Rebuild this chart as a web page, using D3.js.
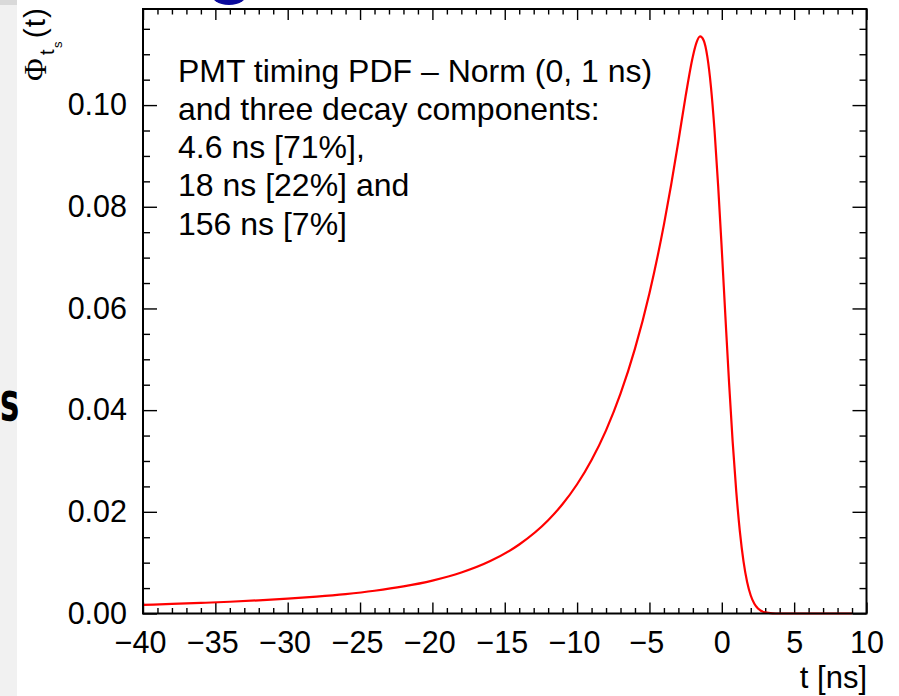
<!DOCTYPE html>
<html>
<head>
<meta charset="utf-8">
<script src="https://cdn.jsdelivr.net/npm/d3@7"></script>
<style>
  html, body { margin: 0; padding: 0; background: #fff; }
  svg { display: block; }
  text { font-family: "Liberation Sans", Arial, Helvetica, sans-serif; fill: #000; }
</style>
</head>
<body>
<svg id="chart" width="899" height="696"></svg>
<script>
// ---- data ----
const timeNs = [-40, -38, -36, -34, -32, -30, -28, -26, -24, -22, -20, -18, -16, -14, -12, -11, -10,
  -9, -8, -7, -6, -5, -4, -3.5, -3, -2.5, -2, -1.75, -1.5, -1.25, -1, -0.75, -0.5, -0.25,
  0, 0.25, 0.5, 0.75, 1, 1.25, 1.5, 1.75, 2, 2.25, 2.5, 3, 3.5, 4, 5, 6, 7, 8, 9];
const pdfValues = [0.00170, 0.00188, 0.00208, 0.00231, 0.00259, 0.00292, 0.00332, 0.00382, 0.00447,
  0.00532, 0.00647, 0.00806, 0.01031, 0.01357, 0.01834, 0.02153, 0.02542,
  0.03019, 0.03603, 0.04323, 0.05209, 0.06300, 0.07648, 0.08432, 0.09289, 0.10176, 0.10958,
  0.11228, 0.11350, 0.11271, 0.10953, 0.10360, 0.09496, 0.08402,
  0.07152, 0.05834, 0.04549, 0.03380, 0.02396, 0.01612, 0.01025, 0.00619, 0.00354, 0.00192,
  0.00098, 0.00021, 0.00004, 0.000005, 0, 0, 0, 0, 0];
const xTickValues = [-40, -35, -30, -25, -20, -15, -10, -5, 0, 5, 10];
const yTickValues = [0.00, 0.02, 0.04, 0.06, 0.08, 0.10];
const noteLines = ["PMT timing PDF \u2013 Norm (0, 1 ns)", "and three decay components:",
  "4.6 ns [71%],", "18 ns [22%] and", "156 ns [7%]"];
const xTitle = "t [ns]";

// ---- layout ----
const L = 143, R = 866.5, T = 9, B = 613.5;
const svg = d3.select("#chart");

// slide artefacts around the picture
svg.append("rect").attr("x", 0).attr("y", 0).attr("width", 17).attr("height", 696).attr("fill", "#f1f1f1");
svg.append("rect").attr("x", 0).attr("y", 0).attr("width", 17).attr("height", 5).attr("fill", "#d9d9d9");
svg.append("ellipse").attr("cx", 229).attr("cy", -8).attr("rx", 19).attr("ry", 13).attr("fill", "#0a0a9c");
svg.append("text").attr("x", 0).attr("y", 420)
  .style("font-family", "DejaVu Sans").style("font-weight", "bold").style("font-size", "54px")
  .attr("transform", "scale(0.6,1)")
  .text("s");

const x = d3.scaleLinear().domain([-40, 10]).range([L, R]);
const y = d3.scaleLinear().domain([0, 0.1189]).range([B, T]);

// minor ticks
const xMinor = d3.range(-40, 10.001, 1).filter(v => Math.abs(v % 5) > 1e-9);
const yMinor = d3.range(0, 0.1189, 0.005).filter(v => Math.abs((v / 0.02) - Math.round(v / 0.02)) > 1e-6);

function styleAxis(g) {
  g.select(".domain").remove();
  g.selectAll(".tick line").attr("stroke", "#000").attr("stroke-width", 1.4);
  g.selectAll(".tick text").style("font-size", "30.5px").attr("fill", "#000");
}

// bottom major + labels
svg.append("g").attr("transform", `translate(0,${B})`)
  .call(d3.axisBottom(x).tickValues(xTickValues).tickSize(-11).tickPadding(18).tickFormat(d3.format("d")))
  .call(styleAxis)
  .call(g => g.selectAll(".tick text").attr("dx", d => d < 0 ? -3 : 0));
svg.append("g").attr("transform", `translate(0,${B})`)
  .call(d3.axisBottom(x).tickValues(xMinor).tickSize(-5.5).tickFormat(""))
  .call(styleAxis);
// top
svg.append("g").attr("transform", `translate(0,${T})`)
  .call(d3.axisTop(x).tickValues(xTickValues).tickSize(-11).tickFormat(""))
  .call(styleAxis);
svg.append("g").attr("transform", `translate(0,${T})`)
  .call(d3.axisTop(x).tickValues(xMinor).tickSize(-5.5).tickFormat(""))
  .call(styleAxis);
// left
svg.append("g").attr("transform", `translate(${L},0)`)
  .call(d3.axisLeft(y).tickValues(yTickValues).tickSize(-14).tickPadding(16).tickFormat(d3.format(".2f")))
  .call(styleAxis);
svg.append("g").attr("transform", `translate(${L},0)`)
  .call(d3.axisLeft(y).tickValues(yMinor).tickSize(-7).tickFormat(""))
  .call(styleAxis);
// right
svg.append("g").attr("transform", `translate(${R},0)`)
  .call(d3.axisRight(y).tickValues(yTickValues).tickSize(-14).tickFormat(""))
  .call(styleAxis);
svg.append("g").attr("transform", `translate(${R},0)`)
  .call(d3.axisRight(y).tickValues(yMinor).tickSize(-7).tickFormat(""))
  .call(styleAxis);

// curve
const line = d3.line().x((d, i) => x(timeNs[i])).y(d => y(d)).curve(d3.curveMonotoneX);
svg.append("path").datum(pdfValues)
  .attr("d", line).attr("fill", "none").attr("stroke", "#ff0000").attr("stroke-width", 2.2);

// frame
svg.append("rect").attr("x", L).attr("y", T).attr("width", R - L).attr("height", B - T)
  .attr("fill", "none").attr("stroke", "#000").attr("stroke-width", 2);

// note text
const note = svg.append("g");
noteLines.forEach((s, i) => {
  note.append("text").attr("x", 178).attr("y", 81.5 + i * 38.3).style("font-size", "32px").text(s);
});

// x title
svg.append("text").attr("x", 867).attr("y", 688).attr("text-anchor", "end")
  .style("font-size", "31px").text(xTitle);

// y title  Φ_{t_s}(t)
const yt = svg.append("g").attr("transform", "translate(46,81) rotate(-90)");
yt.append("text").attr("x", 0).attr("y", 0)
  .style("font-family", "'Liberation Serif', serif").style("font-size", "31px").text("\u03A6");
yt.append("text").attr("x", 26).attr("y", 8).style("font-size", "20px").text("t");
yt.append("text").attr("x", 33).attr("y", 16).style("font-size", "13px").text("s");
yt.append("text").attr("x", 74).attr("y", -1).attr("text-anchor", "end")
  .style("font-size", "30px").style("letter-spacing", "1px").text("(t)");
</script>
</body>
</html>
